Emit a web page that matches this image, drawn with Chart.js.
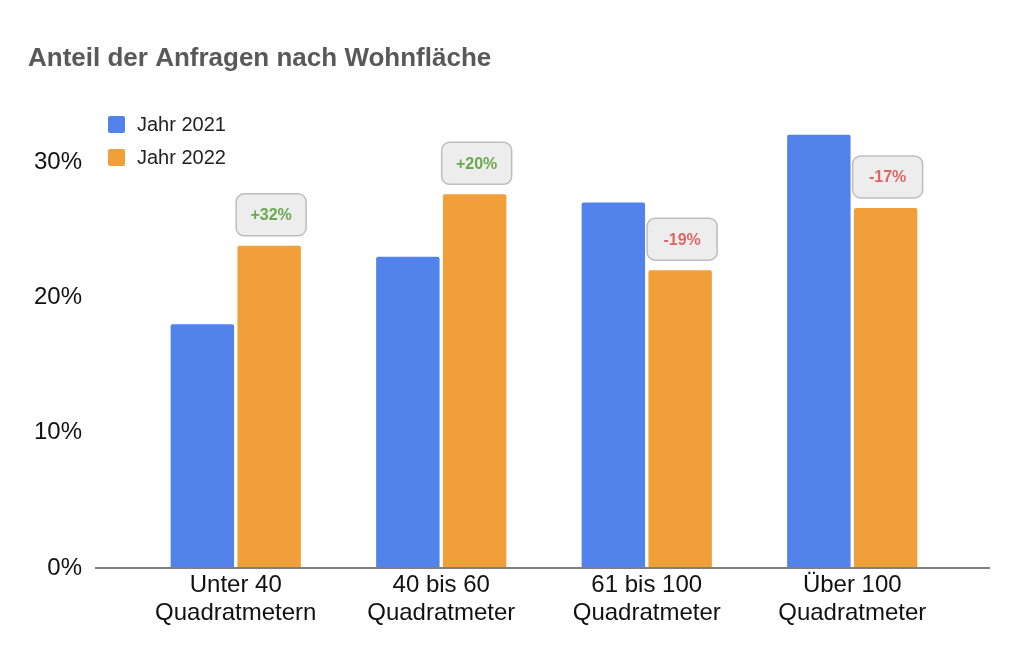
<!DOCTYPE html>
<html>
<head>
<meta charset="utf-8">
<script src="https://cdn.jsdelivr.net/npm/chart.js@4/dist/chart.umd.min.js"></script>
<style>
  html, body { margin: 0; padding: 0; background: #fff; }
  #wrap { width: 1024px; height: 656px; position: relative; }
</style>
</head>
<body>
<div id="wrap"><canvas id="c"></canvas></div>
<script>
// Anteil der Anfragen nach Wohnfläche — grouped bars, 2021 vs 2022
const categories = [
  ['Unter 40', 'Quadratmetern'],
  ['40 bis 60', 'Quadratmeter'],
  ['61 bis 100', 'Quadratmeter'],
  ['Über 100', 'Quadratmeter']
]
const seriesNames = ['Jahr 2021', 'Jahr 2022']
const values2021 = [18, 23, 27, 32]
const values2022 = [23.8, 27.6, 22, 26.6]
const changeLabels = ['+32%', '+20%', '-19%', '-17%']
const yTicks = [0, 10, 20, 30]

const BLUE = '#5183eb'
const ORANGE = '#f19f38'
const FONT = "'Liberation Sans', Arial, Helvetica, sans-serif"

// baseline drawn wider than the plot area, like the original
const baselinePlugin = {
  id: 'baseline',
  afterDatasetsDraw (chart) {
    const { ctx, chartArea } = chart
    ctx.save()
    ctx.strokeStyle = '#7f7f7f'
    ctx.lineWidth = 2
    ctx.beginPath()
    ctx.moveTo(95, chartArea.bottom)
    ctx.lineTo(990, chartArea.bottom)
    ctx.stroke()
    ctx.restore()
  }
}

// change badges above the 2022 bars
const badgePlugin = {
  id: 'badges',
  afterDatasetsDraw (chart) {
    const { ctx } = chart
    const meta = chart.getDatasetMeta(1)
    meta.data.forEach((bar, i) => {
      const w = 70, h = 42
      const cx = bar.x + 2
      const bottom = bar.y - 10
      const x = cx - w / 2, y = bottom - h
      ctx.save()
      ctx.beginPath()
      ctx.roundRect(x, y, w, h, 8)
      ctx.fillStyle = '#ededed'
      ctx.fill()
      ctx.strokeStyle = '#bdbdbd'
      ctx.lineWidth = 1.5
      ctx.stroke()
      const label = changeLabels[i]
      ctx.fillStyle = label.startsWith('+') ? '#6aa84f' : '#e06666'
      ctx.font = 'bold 16px ' + FONT
      ctx.textAlign = 'center'
      ctx.textBaseline = 'middle'
      ctx.fillText(label, cx, y + h / 2 + 1)
      ctx.restore()
    })
  }
}

// legend in the top-left corner, overlapping the plot
const legendPlugin = {
  id: 'cornerLegend',
  afterDraw (chart) {
    const { ctx } = chart
    chart.data.datasets.forEach((ds, i) => {
      const cy = 124.5 + i * 33
      ctx.save()
      ctx.fillStyle = ds.backgroundColor
      ctx.beginPath()
      ctx.roundRect(108, cy - 8.5, 17, 17, 2)
      ctx.fill()
      ctx.fillStyle = '#222'
      ctx.font = '20px ' + FONT
      ctx.textAlign = 'left'
      ctx.textBaseline = 'middle'
      ctx.fillText(ds.label, 137, cy + 1)
      ctx.restore()
    })
  }
}

new Chart(document.getElementById('c'), {
  type: 'bar',
  data: {
    labels: categories,
    datasets: [
      { label: seriesNames[0], data: values2021, backgroundColor: BLUE, borderRadius: 2, borderSkipped: 'start' },
      { label: seriesNames[1], data: values2022, backgroundColor: ORANGE, borderRadius: 2, borderSkipped: 'start' }
    ]
  },
  options: {
    responsive: true,
    maintainAspectRatio: false,
    animation: false,
    devicePixelRatio: 1,
    datasets: { bar: { barPercentage: 0.95, categoryPercentage: 0.65 } },
    layout: { padding: { left: 28, right: 69, top: 0, bottom: 0 } },
    scales: {
      x: {
        grid: { display: false, drawTicks: false },
        border: { display: false },
        ticks: { color: '#111', font: { size: 24, family: FONT, lineHeight: 1.15 }, padding: 4, maxRotation: 0 },
        afterFit: s => { s.height = 88 }
      },
      y: {
        min: 0, max: 35,
        grid: { display: false, drawTicks: false },
        border: { display: false },
        ticks: { color: '#111', font: { size: 24, family: FONT }, padding: 51, callback: v => v + '%' },
        afterBuildTicks: s => { s.ticks = yTicks.map(v => ({ value: v })) },
        afterFit: s => { s.width = 105 }
      }
    },
    plugins: {
      legend: { display: false },
      tooltip: { enabled: false },
      title: {
        display: true,
        text: 'Anteil der Anfragen nach Wohnfläche',
        align: 'start',
        color: '#595959',
        font: { size: 26, weight: 'bold', family: FONT, lineHeight: 1.2 },
        padding: { top: 43, bottom: 20 }
      }
    }
  },
  plugins: [baselinePlugin, badgePlugin, legendPlugin]
})
</script>
</body>
</html>
